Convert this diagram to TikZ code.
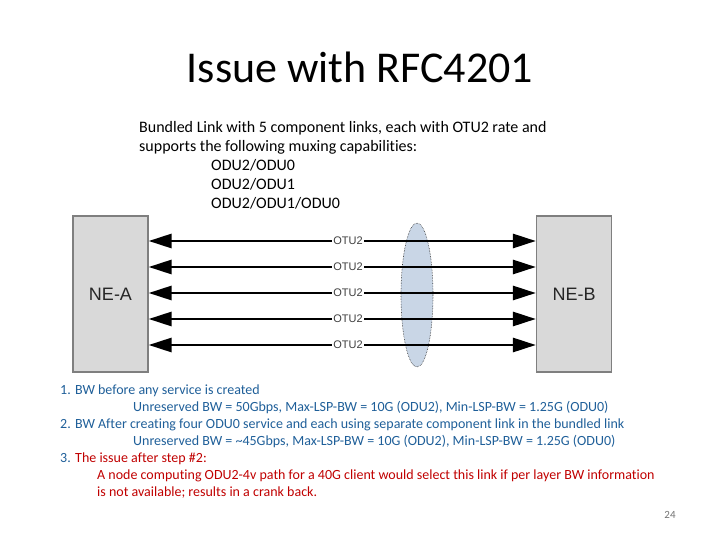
\documentclass[tikz,border=0pt]{standalone}
\usepackage{fontspec}
\setmainfont{Carlito}[Ligatures=CommonOff]
\newfontfamily\arialfont{Liberation Sans}
\usetikzlibrary{arrows.meta,shapes.geometric}
\definecolor{bwblue}{HTML}{1F5F99}
\definecolor{issuered}{HTML}{C00000}
\definecolor{boxgray}{HTML}{D9D9D9}
\definecolor{boxedge}{HTML}{7F7F7F}
\definecolor{ellfill}{HTML}{C9D6E6}
\tikzset{
  txt/.style={inner sep=0pt, anchor=base west},
  nebox/.style={draw=boxedge, line width=1.2pt, fill=boxgray, minimum width=75pt, minimum height=156pt, inner sep=0pt, font=\arialfont\fontsize{18}{20}\selectfont, text=black!85},
  link/.style={line width=2.8pt, {Triangle[length=23pt,width=14pt]}-{Triangle[length=23pt,width=14pt]}},
  otu/.style={fill=white, inner sep=1pt, font=\arialfont\fontsize{11}{12}\selectfont, text=black!75},
  bw/.style={txt, font=\fontsize{14}{16}\selectfont, text=bwblue},
  iss/.style={txt, font=\fontsize{14}{16}\selectfont, text=issuered},
  para/.style={txt, font=\fontsize{16}{19}\selectfont}
}
\begin{document}
\begin{tikzpicture}[x=1pt,y=-1pt]
\useasboundingbox (0,0) rectangle (720,540);
\node[txt, anchor=base, font=\fontsize{44}{50}\selectfont] (title) at (360,83) {Issue with RFC4201};
\node[para] (p1) at (139,133) {Bundled Link with 5 component links, each with OTU2 rate and};
\node[para] (p2) at (139,152) {supports the following muxing capabilities:};
\node[para] (p3) at (211,171) {ODU2/ODU0};
\node[para] (p4) at (211,190) {ODU2/ODU1};
\node[para] (p5) at (211,209) {ODU2/ODU1/ODU0};
\node[nebox] (nea) at (110.5,294) {NE-A};
\node[nebox] (neb) at (574,294) {NE-B};
\node[draw=black!80, densely dotted, line width=0.6pt, fill=ellfill, ellipse, minimum width=32pt, minimum height=144pt, inner sep=0pt] (bundle) at (417,295) {};
\foreach \i/\y in {1/241,2/267,3/293,4/319,5/345}{
  \coordinate (l\i) at (nea.east |- 0,\y);
  \coordinate (r\i) at (neb.west |- 0,\y);
  \draw[link] (l\i) -- (r\i);
  \node[otu] (o\i) at (348,\y) {OTU2};
}
\node[bw] (b1) at (60,394) {1. BW before any service is created};
\node[bw] (b2) at (133,411) {Unreserved BW = 50Gbps, Max-LSP-BW = 10G (ODU2), Min-LSP-BW = 1.25G (ODU0)};
\node[bw] (b3) at (60,428) {2. BW After creating four ODU0 service and each using separate component link in the bundled link};
\node[bw] (b4) at (133,445) {Unreserved BW = \textasciitilde 45Gbps, Max-LSP-BW = 10G (ODU2), Min-LSP-BW = 1.25G (ODU0)};
\node[bw] (b5) at (60,462) {3.};
\node[iss] (b5t) at (75,462) {The issue after step \#2:};
\node[iss] (b6) at (97,479) {A node computing ODU2-4v path for a 40G client would select this link if per layer BW information};
\node[iss] (b7) at (97,496) {is not available; results in a crank back.};
\node[txt, anchor=base, font=\fontsize{11}{12}\selectfont, text=black!55] (pg) at (670,518) {24};
\end{tikzpicture}
\end{document}
